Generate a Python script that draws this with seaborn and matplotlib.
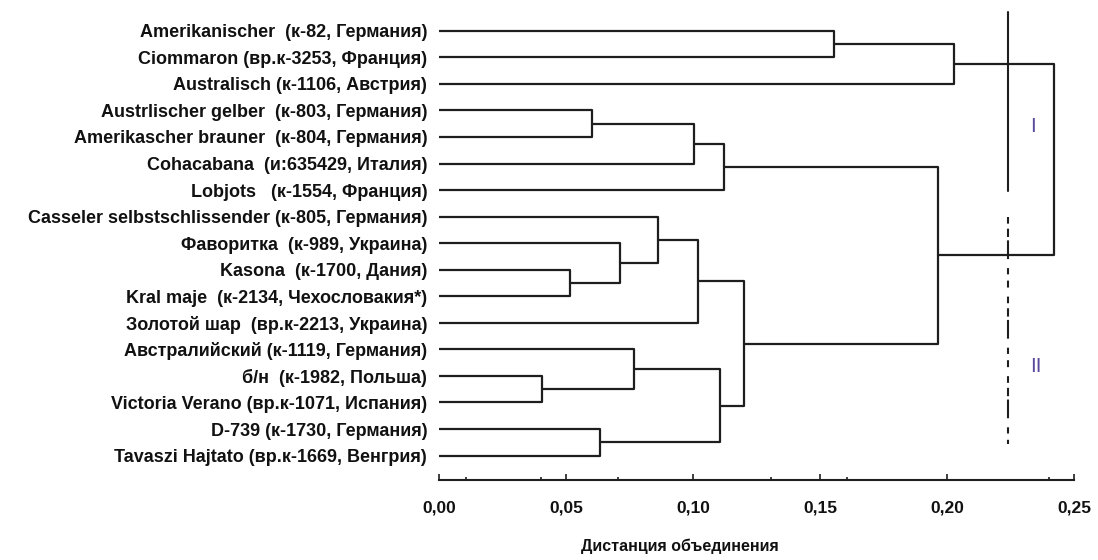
import numpy as np
import pandas as pd
import matplotlib
matplotlib.use("Agg")
import matplotlib.pyplot as plt
import seaborn as sns
from matplotlib import font_manager
from matplotlib.ticker import FixedLocator, FuncFormatter

# leaves of the tree, top to bottom
cultivars = [
    "Amerikanischer  (к-82, Германия)",
    "Ciommaron (вр.к-3253, Франция)",
    "Australisch (к-1106, Австрия)",
    "Austrlischer gelber  (к-803, Германия)",
    "Amerikascher brauner  (к-804, Германия)",
    "Cohacabana  (и:635429, Италия)",
    "Lobjots   (к-1554, Франция)",
    "Casseler selbstschlissender (к-805, Германия)",
    "Фаворитка  (к-989, Украина)",
    "Kasona  (к-1700, Дания)",
    "Kral maje  (к-2134, Чехословакия*)",
    "Золотой шар  (вр.к-2213, Украина)",
    "Австралийский (к-1119, Германия)",
    "б/н  (к-1982, Польша)",
    "Victoria Verano (вр.к-1071, Испания)",
    "D-739 (к-1730, Германия)",
    "Tavaszi Hajtato (вр.к-1669, Венгрия)",
]

# joins: ids 0-16 are cultivars, 17+ are the clusters made in this order
merge_left = [0, 17, 3, 19, 20, 9, 8, 7, 24, 13, 12, 15, 27, 25, 21, 18]
merge_right = [1, 2, 4, 5, 6, 10, 22, 23, 11, 14, 26, 16, 28, 29, 30, 31]
merge_dist = [0.1555, 0.2029, 0.0604, 0.1005, 0.1122, 0.0516, 0.0713, 0.0864,
              0.1021, 0.0404, 0.0768, 0.0634, 0.1106, 0.1201, 0.1966, 0.2422]

cut_distance = 0.224
x_ticks = [0.00, 0.05, 0.10, 0.15, 0.20, 0.25]
x_minor = [0.0105, 0.040, 0.0706, 0.1306, 0.1605, 0.240]

names = {f.name for f in font_manager.fontManager.ttflist}
if "Liberation Sans Narrow" in names:
    fam = ["Liberation Sans Narrow", "DejaVu Sans"]
    lab_size, tick_size, title_size = 15, 13, 13
else:
    fam = ["Liberation Sans", "DejaVu Sans"]
    lab_size, tick_size, title_size = 13, 12.5, 11.5

sns.set_theme(style="white")
plt.rcParams["font.family"] = fam
plt.rcParams["lines.scale_dashes"] = False

# build the link segments
pos = {i: float(i) for i in range(len(cultivars))}
height = {i: 0.0 for i in range(len(cultivars))}
rows = []
for k, (a, b, d) in enumerate(zip(merge_left, merge_right, merge_dist)):
    node = len(cultivars) + k
    pts = [(height[a], pos[a]), (d, pos[a]), (d, pos[b]), (height[b], pos[b])]
    for j, (x, y) in enumerate(pts):
        rows.append({"link": k, "order": j, "dist": x, "row": y})
    pos[node] = (pos[a] + pos[b]) / 2
    height[node] = d
links = pd.DataFrame(rows)

fig = plt.figure(figsize=(10.98, 5.6), dpi=100)
ax = fig.add_axes([0.3998, 0.1429, 0.5783, 0.848])

sns.lineplot(data=links, x="dist", y="row", units="link", estimator=None,
             sort=False, color="#1e1e1e", linewidth=1.6, ax=ax, legend=False)

# cut level, groups I and II
ax.plot([cut_distance, cut_distance], [-0.70, 6.04], color="#1e1e1e", lw=1.5)
ax.plot([cut_distance, cut_distance], [7.02, 15.57], color="#1e1e1e", lw=1.5,
        linestyle=(0, (4.8, 3.6, 6.0, 2.4, 13.5, 6.5, 4.5, 4.5, 5.0, 6.5)))
ax.text(0.2339, 3.59, "I", color="#5b4a9c", fontsize=15, ha="center", va="center")
ax.text(0.2350, 12.66, "II", color="#5b4a9c", fontsize=15, ha="center", va="center")

ax.set_xlim(0, 0.25)
ax.set_ylim(16.92, -0.968)
ax.set_yticks(range(len(cultivars)))
ax.set_yticklabels(cultivars, fontsize=lab_size, fontweight="bold", color="#111111")
ax.tick_params(axis="y", length=0, pad=8.5)

ax.xaxis.set_major_locator(FixedLocator(x_ticks))
ax.xaxis.set_minor_locator(FixedLocator(x_minor))
ax.xaxis.set_major_formatter(FuncFormatter(lambda v, _: f"{v:.2f}".replace(".", ",")))
ax.tick_params(axis="x", which="major", direction="in", length=4, width=1.2,
               color="#1e1e1e", labelsize=tick_size, labelcolor="#111111",
               pad=15, bottom=True)
ax.tick_params(axis="x", which="minor", direction="in", length=2.5, width=1.2,
               color="#1e1e1e", bottom=True)
for t in ax.get_xticklabels():
    t.set_fontweight("bold")

ax.set_xlabel("Дистанция объединения", fontsize=title_size, fontweight="bold",
              color="#111111")
ax.xaxis.set_label_coords(0.38, -0.124)
ax.set_ylabel("")

sns.despine(ax=ax, left=True)
ax.spines["bottom"].set_linewidth(1.5)
ax.spines["bottom"].set_color("#1e1e1e")

fig.savefig("out.png", dpi=100)
